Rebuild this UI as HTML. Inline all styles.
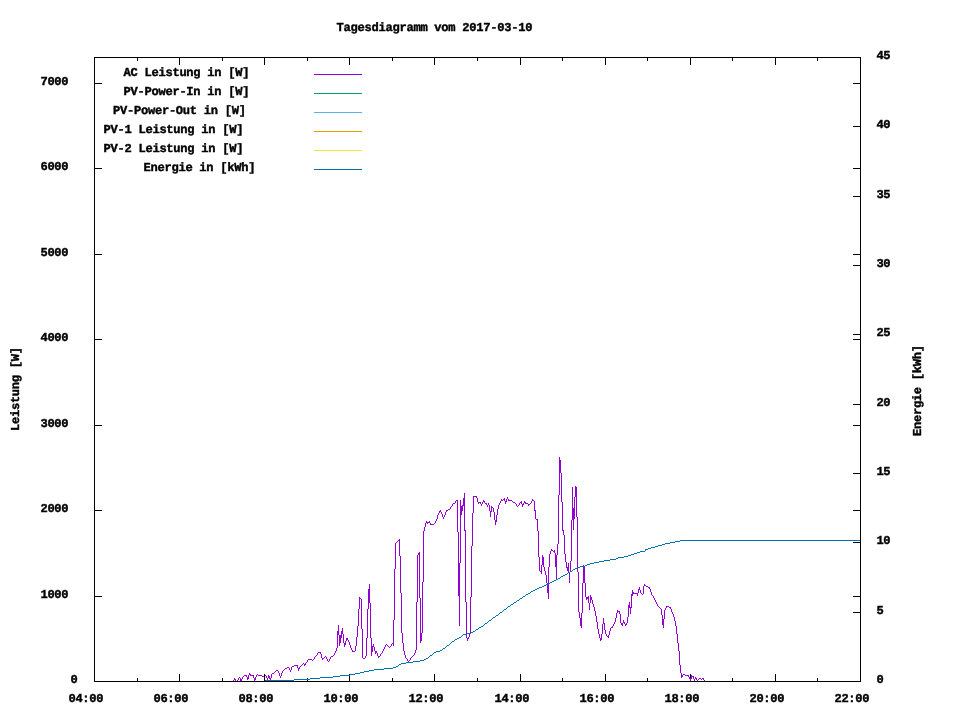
<!DOCTYPE html>
<html lang="de"><head><meta charset="utf-8"><title>Tagesdiagramm vom 2017-03-10</title>
<style>html,body{margin:0;padding:0;background:#fff}body{width:960px;height:720px;overflow:hidden}svg{display:block}text{font-family:"Liberation Mono","DejaVu Sans Mono",monospace;font-weight:bold;text-rendering:geometricPrecision;font-size:12.1px;fill:#000;stroke:#000;stroke-width:0.4px}</style>
</head><body>
<svg width="960" height="720" viewBox="0 0 960 720">
<rect width="960" height="720" fill="#fff"/>
<g stroke="#000" stroke-width="1" fill="none" shape-rendering="crispEdges">
<path d="M94.5 682.0v-8M94.5 57.0v8M137.5 682.0v-4M137.5 57.0v4M179.5 682.0v-8M179.5 57.0v8M222.5 682.0v-4M222.5 57.0v4M264.5 682.0v-8M264.5 57.0v8M307.5 682.0v-4M307.5 57.0v4M349.5 682.0v-8M349.5 57.0v8M392.5 682.0v-4M392.5 57.0v4M434.5 682.0v-8M434.5 57.0v8M477.5 682.0v-4M477.5 57.0v4M520.5 682.0v-8M520.5 57.0v8M562.5 682.0v-4M562.5 57.0v4M605.5 682.0v-8M605.5 57.0v8M647.5 682.0v-4M647.5 57.0v4M690.5 682.0v-8M690.5 57.0v8M732.5 682.0v-4M732.5 57.0v4M775.5 682.0v-8M775.5 57.0v8M817.5 682.0v-4M817.5 57.0v4M860.5 682.0v-8M860.5 57.0v8M94.0 681.5h8M861.0 681.5h-8M94.0 596.5h8M861.0 596.5h-8M94.0 510.5h8M861.0 510.5h-8M94.0 425.5h8M861.0 425.5h-8M94.0 339.5h8M861.0 339.5h-8M94.0 254.5h8M861.0 254.5h-8M94.0 168.5h8M861.0 168.5h-8M94.0 83.5h8M861.0 83.5h-8M861.0 681.5h-8M861.0 612.5h-8M861.0 542.5h-8M861.0 473.5h-8M861.0 404.5h-8M861.0 334.5h-8M861.0 265.5h-8M861.0 196.5h-8M861.0 126.5h-8M861.0 57.5h-8"/>
</g>
<g fill="none" stroke-width="1" shape-rendering="crispEdges" stroke-linejoin="miter">
<path stroke="#9400d3" d="M233.5 680v1M234.5 678v2M235.5 679v2M236.5 681v1M237.5 680v1M238.5 678v2M239.5 677v1M240.5 678v3M241.5 679v2M242.5 677v2M243.5 676v1M244.5 675v1M245.5 675v1M246.5 675v2M247.5 677v3M248.5 675v4M249.5 673v2M250.5 674v2M251.5 675v1M252.5 675v1M253.5 675v3M254.5 678v3M255.5 677v3M256.5 675v2M257.5 674v1M258.5 675v1M259.5 675v1M260.5 675v1M261.5 675v1M262.5 676v1M263.5 676v1M264.5 675v1M265.5 675v1M266.5 676v2M267.5 678v3M268.5 675v3M269.5 676v3M270.5 678v3M271.5 674v4M272.5 673v1M273.5 673v1M274.5 672v1M275.5 671v1M276.5 670v1M277.5 670v1M278.5 671v2M279.5 673v3M280.5 676v2M281.5 673v3M282.5 671v2M283.5 670v1M284.5 669v1M285.5 668v1M286.5 668v1M287.5 667v1M288.5 667v1M289.5 668v2M290.5 670v2M291.5 667v3M292.5 666v1M293.5 666v1M294.5 665v1M295.5 665v1M296.5 665v1M297.5 665v3M298.5 668v3M299.5 667v2M300.5 666v1M301.5 665v1M302.5 664v1M303.5 663v1M304.5 664v2M305.5 663v2M306.5 662v1M307.5 660v2M308.5 659v1M309.5 659v1M310.5 659v1M311.5 659v1M312.5 660v1M313.5 659v1M314.5 657v2M315.5 656v1M316.5 655v1M317.5 653v2M318.5 652v1M319.5 652v1M320.5 652v2M321.5 654v4M322.5 658v2M323.5 658v1M324.5 657v1M325.5 656v1M326.5 657v2M327.5 659v2M328.5 661v1M329.5 659v2M330.5 657v2M331.5 656v1M332.5 656v1M333.5 655v1M334.5 653v2M335.5 651v2M336.5 648v3M337.5 631v17M338.5 625v10M339.5 635v11M340.5 635v8M341.5 631v7M342.5 628v6M343.5 634v9M344.5 643v4M345.5 641v4M346.5 638v3M347.5 638v2M348.5 640v2M349.5 642v3M350.5 645v3M351.5 648v2M352.5 650v2M353.5 651v1M354.5 651v1M355.5 646v5M356.5 637v9M357.5 626v11M358.5 609v17M359.5 597v12M360.5 598v1M361.5 599v30M362.5 629v29M363.5 658v1M364.5 658v1M365.5 656v2M366.5 638v18M367.5 609v29M368.5 589v20M369.5 584v19M370.5 603v35M371.5 638v18M372.5 646v6M373.5 644v3M374.5 647v4M375.5 651v3M376.5 651v2M377.5 653v3M378.5 656v2M379.5 656v1M380.5 654v2M381.5 653v1M382.5 651v2M383.5 649v2M384.5 647v2M385.5 645v2M386.5 644v1M387.5 645v1M388.5 646v1M389.5 647v1M390.5 646v1M391.5 644v2M392.5 643v1M393.5 620v26M394.5 569v51M395.5 543v26M396.5 542v1M397.5 541v1M398.5 540v1M399.5 539v17M400.5 556v37M401.5 593v40M402.5 633v10M403.5 643v8M404.5 651v4M405.5 655v3M406.5 658v1M407.5 659v2M408.5 661v1M409.5 660v1M410.5 658v2M411.5 657v1M412.5 656v1M413.5 655v1M414.5 653v2M415.5 650v3M416.5 602v48M417.5 555v47M418.5 553v2M419.5 552v46M420.5 598v45M421.5 633v8M422.5 582v51M423.5 531v51M424.5 527v4M425.5 523v4M426.5 521v2M427.5 522v2M428.5 522v1M429.5 521v2M430.5 523v2M431.5 524v1M432.5 524v1M433.5 524v1M434.5 523v1M435.5 521v2M436.5 519v2M437.5 515v4M438.5 513v2M439.5 511v2M440.5 510v2M441.5 512v2M442.5 514v3M443.5 517v2M444.5 515v2M445.5 512v3M446.5 510v2M447.5 510v1M448.5 509v1M449.5 509v1M450.5 507v2M451.5 506v1M452.5 504v2M453.5 503v1M454.5 503v1M455.5 501v2M456.5 500v1M457.5 500v32M458.5 532v64M459.5 563v63M460.5 500v63M461.5 506v9M462.5 505v6M463.5 498v8M464.5 493v38M465.5 530v72M466.5 602v36M467.5 638v3M468.5 637v2M469.5 633v4M470.5 597v36M471.5 546v51M472.5 513v33M473.5 496v17M474.5 496v1M475.5 496v1M476.5 496v2M477.5 498v4M478.5 502v2M479.5 502v1M480.5 502v2M481.5 504v2M482.5 502v2M483.5 500v2M484.5 501v2M485.5 503v1M486.5 503v2M487.5 505v2M488.5 503v2M489.5 505v6M490.5 511v6M491.5 506v6M492.5 507v1M493.5 508v4M494.5 512v8M495.5 520v5M496.5 515v7M497.5 509v6M498.5 505v4M499.5 503v2M500.5 501v2M501.5 499v2M502.5 500v1M503.5 499v1M504.5 498v3M505.5 501v3M506.5 499v3M507.5 497v2M508.5 499v2M509.5 500v1M510.5 500v1M511.5 500v1M512.5 501v1M513.5 502v1M514.5 502v1M515.5 503v1M516.5 504v2M517.5 506v1M518.5 505v1M519.5 503v2M520.5 502v1M521.5 501v3M522.5 504v3M523.5 503v2M524.5 501v2M525.5 502v2M526.5 503v1M527.5 503v1M528.5 504v2M529.5 504v1M530.5 503v1M531.5 501v2M532.5 499v2M533.5 500v1M534.5 501v10M535.5 510v9M536.5 519v1M537.5 519v12M538.5 531v26M539.5 557v14M540.5 571v1M541.5 565v9M542.5 555v10M543.5 557v10M544.5 567v4M545.5 571v4M546.5 575v8M547.5 583v10M548.5 567v32M549.5 554v13M550.5 551v3M551.5 549v2M552.5 550v1M553.5 551v1M554.5 550v3M555.5 553v14M556.5 555v24M557.5 544v11M558.5 495v49M559.5 457v38M560.5 460v13M561.5 473v29M562.5 502v29M563.5 530v5M564.5 535v19M565.5 554v8M566.5 562v6M567.5 567v4M568.5 563v10M569.5 572v11M570.5 561v11M571.5 520v41M572.5 487v33M573.5 508v22M574.5 497v22M575.5 486v11M576.5 487v30M577.5 517v55M578.5 572v40M579.5 612v6M580.5 618v8M581.5 613v15M582.5 583v30M583.5 565v18M584.5 566v17M585.5 583v14M586.5 597v3M587.5 597v2M588.5 596v7M589.5 603v7M590.5 595v8M591.5 597v3M592.5 600v4M593.5 604v3M594.5 607v4M595.5 611v5M596.5 616v6M597.5 622v7M598.5 629v5M599.5 634v4M600.5 638v3M601.5 634v6M602.5 624v10M603.5 618v6M604.5 623v7M605.5 630v4M606.5 634v2M607.5 636v1M608.5 635v3M609.5 631v4M610.5 628v3M611.5 627v1M612.5 626v2M613.5 624v2M614.5 622v2M615.5 618v4M616.5 613v5M617.5 610v3M618.5 611v1M619.5 611v3M620.5 614v9M621.5 623v2M622.5 623v3M623.5 620v3M624.5 622v2M625.5 624v2M626.5 623v2M627.5 617v6M628.5 605v12M629.5 602v6M630.5 607v7M631.5 594v14M632.5 590v6M633.5 592v2M634.5 593v1M635.5 593v1M636.5 593v1M637.5 593v3M638.5 589v4M639.5 587v3M640.5 590v3M641.5 593v1M642.5 594v1M643.5 586v8M644.5 584v2M645.5 585v1M646.5 586v1M647.5 586v1M648.5 587v1M649.5 587v2M650.5 589v3M651.5 592v3M652.5 595v1M653.5 596v2M654.5 598v2M655.5 600v2M656.5 602v2M657.5 604v2M658.5 606v1M659.5 607v1M660.5 608v1M661.5 609v6M662.5 615v10M663.5 619v9M664.5 610v9M665.5 608v2M666.5 606v2M667.5 606v1M668.5 606v1M669.5 607v1M670.5 607v2M671.5 609v3M672.5 612v2M673.5 614v3M674.5 617v4M675.5 621v5M676.5 626v8M677.5 634v9M678.5 643v8M679.5 651v14M680.5 665v8M681.5 673v5M682.5 675v2M683.5 674v1M684.5 674v1M685.5 675v1M686.5 675v1M687.5 675v1M688.5 675v2M689.5 677v2M690.5 678v3M691.5 675v4M692.5 676v1M693.5 676v3M694.5 679v2M695.5 677v2M696.5 678v2M697.5 680v1M698.5 679v1M699.5 678v1M700.5 678v1M701.5 679v1M702.5 678v1M703.5 678v2M704.5 680v1"/>
<path stroke="#0072b2" d="M680 540.5h181M675 541.5h5M670 542.5h5M665 543.5h5M662 544.5h3M658 545.5h4M655 546.5h3M651 547.5h4M648 548.5h3M645 549.5h3M645 550.5h1M640 551.5h5M637 552.5h3M634 553.5h3M631 554.5h3M628 555.5h3M624 556.5h4M618 557.5h6M616 558.5h2M610 559.5h6M604 560.5h6M599 561.5h5M594 562.5h5M590 563.5h4M587 564.5h3M585 565.5h2M580 566.5h5M577 567.5h3M575 568.5h2M573 569.5h2M572 570.5h1M570 571.5h2M568 572.5h2M567 573.5h1M565 574.5h2M563 575.5h2M561 576.5h2M560 577.5h1M558 578.5h2M556 579.5h2M554 580.5h2M552 581.5h2M550 582.5h2M548 583.5h2M546 584.5h2M544 585.5h2M542 586.5h2M539 587.5h3M537 588.5h2M535 589.5h2M533 590.5h2M531 591.5h2M530 592.5h1M528 593.5h2M526 594.5h2M525 595.5h1M523 596.5h2M522 597.5h1M520 598.5h2M519 599.5h1M517 600.5h2M516 601.5h1M514 602.5h2M513 603.5h1M511 604.5h2M510 605.5h1M508 606.5h2M507 607.5h1M506 608.5h1M504 609.5h2M503 610.5h1M502 611.5h1M500 612.5h2M499 613.5h1M498 614.5h1M496 615.5h2M495 616.5h1M493 617.5h2M492 618.5h1M491 619.5h1M489 620.5h2M488 621.5h1M487 622.5h1M485 623.5h2M484 624.5h1M483 625.5h1M481 626.5h2M479 627.5h2M478 628.5h1M476 629.5h2M475 630.5h1M473 631.5h2M471 632.5h2M467 633.5h4M463 634.5h4M462 635.5h1M461 636.5h1M459 637.5h2M457 638.5h2M455 639.5h2M454 640.5h1M452 641.5h2M451 642.5h1M450 643.5h1M449 644.5h1M447 645.5h2M446 646.5h1M445 647.5h1M443 648.5h2M442 649.5h1M440 650.5h2M436 651.5h4M434 652.5h2M433 653.5h1M432 654.5h1M430 655.5h2M429 656.5h1M428 657.5h1M426 658.5h2M424 659.5h2M420 660.5h4M413 661.5h7M406 662.5h7M401 663.5h5M399 664.5h2M398 665.5h1M396 666.5h2M393 667.5h3M384 668.5h9M374 669.5h10M369 670.5h5M364 671.5h5M360 672.5h4M355 673.5h5M350 674.5h5M340 675.5h10M333 676.5h7M320 677.5h13M310 678.5h10M294 679.5h16M264 680.5h30"/>
<path stroke="#9400d3" d="M314 74.5H362"/>
<path stroke="#009e73" d="M314 93.5H362"/>
<path stroke="#56b4e9" d="M314 112.5H362"/>
<path stroke="#e69f00" d="M314 131.5H362"/>
<path stroke="#f0e442" d="M314 150.5H362"/>
<path stroke="#0072b2" d="M314 169.5H362"/>
</g>
<rect x="94.5" y="57.5" width="766.0" height="624.0" fill="none" stroke="#000" stroke-width="1" shape-rendering="crispEdges"/>
<path d="M264.5 682v-8" stroke="#000" stroke-width="1" fill="none" shape-rendering="crispEdges"/>
<text x="336.5" y="31" textLength="196" lengthAdjust="spacing">Tagesdiagramm vom 2017-03-10</text>
<text x="123.5" y="76" textLength="126" lengthAdjust="spacing">AC Leistung in [W]</text>
<text x="123.5" y="95" textLength="126" lengthAdjust="spacing">PV-Power-In in [W]</text>
<text x="113.0" y="114" textLength="133" lengthAdjust="spacing">PV-Power-Out in [W]</text>
<text x="103.5" y="133" textLength="140" lengthAdjust="spacing">PV-1 Leistung in [W]</text>
<text x="103.5" y="152" textLength="140" lengthAdjust="spacing">PV-2 Leistung in [W]</text>
<text x="143.5" y="171" textLength="112" lengthAdjust="spacing">Energie in [kWh]</text>
<text x="40.5" y="598" textLength="28" lengthAdjust="spacing">1000</text>
<text x="40.5" y="512" textLength="28" lengthAdjust="spacing">2000</text>
<text x="40.5" y="427" textLength="28" lengthAdjust="spacing">3000</text>
<text x="40.5" y="341" textLength="28" lengthAdjust="spacing">4000</text>
<text x="40.5" y="256" textLength="28" lengthAdjust="spacing">5000</text>
<text x="40.5" y="170" textLength="28" lengthAdjust="spacing">6000</text>
<text x="40.5" y="85" textLength="28" lengthAdjust="spacing">7000</text>
<text x="70.5" y="683" textLength="7" lengthAdjust="spacing">0</text>
<text x="876.5" y="683" textLength="7" lengthAdjust="spacing">0</text>
<text x="876.5" y="614" textLength="7" lengthAdjust="spacing">5</text>
<text x="876.5" y="544" textLength="14" lengthAdjust="spacing">10</text>
<text x="876.5" y="475" textLength="14" lengthAdjust="spacing">15</text>
<text x="876.5" y="406" textLength="14" lengthAdjust="spacing">20</text>
<text x="876.5" y="336" textLength="14" lengthAdjust="spacing">25</text>
<text x="876.5" y="267" textLength="14" lengthAdjust="spacing">30</text>
<text x="876.5" y="198" textLength="14" lengthAdjust="spacing">35</text>
<text x="876.5" y="128" textLength="14" lengthAdjust="spacing">40</text>
<text x="876.5" y="59" textLength="14" lengthAdjust="spacing">45</text>
<text x="68.5" y="702" textLength="35" lengthAdjust="spacing">04:00</text>
<text x="153.5" y="702" textLength="35" lengthAdjust="spacing">06:00</text>
<text x="238.5" y="702" textLength="35" lengthAdjust="spacing">08:00</text>
<text x="323.5" y="702" textLength="35" lengthAdjust="spacing">10:00</text>
<text x="408.5" y="702" textLength="35" lengthAdjust="spacing">12:00</text>
<text x="494.5" y="702" textLength="35" lengthAdjust="spacing">14:00</text>
<text x="579.5" y="702" textLength="35" lengthAdjust="spacing">16:00</text>
<text x="664.5" y="702" textLength="35" lengthAdjust="spacing">18:00</text>
<text x="749.5" y="702" textLength="35" lengthAdjust="spacing">20:00</text>
<text x="834.5" y="702" textLength="35" lengthAdjust="spacing">22:00</text>
<text transform="translate(19,431) rotate(-90)" textLength="84" lengthAdjust="spacing">Leistung [W]</text>
<text transform="translate(921,436) rotate(-90)" textLength="91" lengthAdjust="spacing">Energie [kWh]</text>
</svg>
</body></html>
